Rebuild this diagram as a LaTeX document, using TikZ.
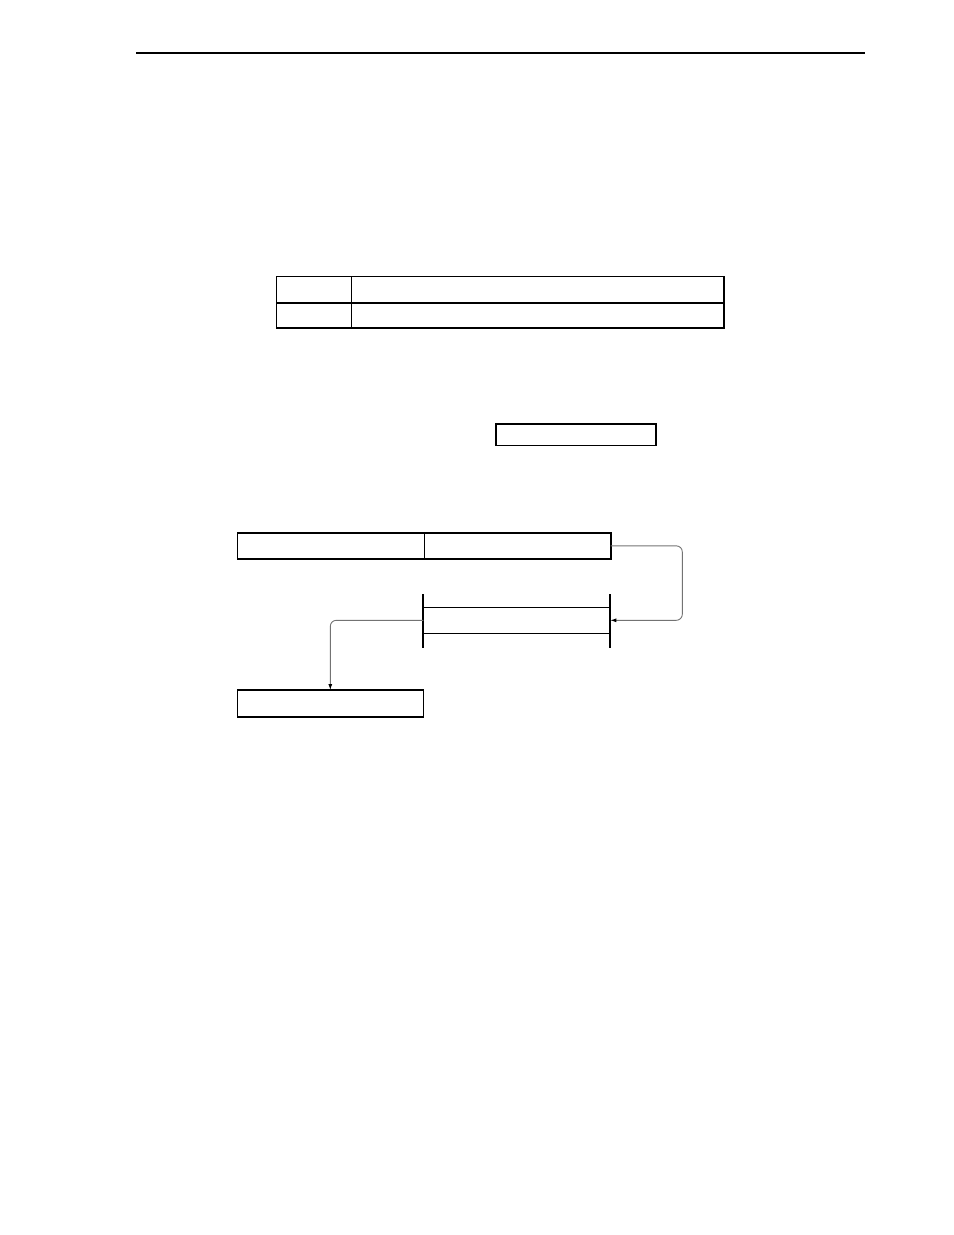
\documentclass[tikz,border=0pt]{standalone}
\usetikzlibrary{arrows.meta,calc}
\tikzset{
  cell/.style={draw=black, line width=1.6bp, rectangle, inner sep=0pt, outer sep=0pt, anchor=north west},
  bufbox/.style={draw=none, rectangle, inner sep=0pt, outer sep=0pt, anchor=north west},
  conn/.style={draw=black!55, line width=0.9bp, rounded corners=6bp, -{Latex[length=6bp,width=4bp,black]}},
  rail/.style={line width=1.8bp},
  bar/.style={line width=1.1bp}
}
\begin{document}
\begin{tikzpicture}[x=1bp,y=-1bp]
\useasboundingbox (0,0) rectangle (954,1235);
% header rule
\draw[line width=1.2bp] (136,53) -- (865,53);
% table
\node[cell, minimum width=74.8bp, minimum height=26.2bp] (t11) at (276.5,276.5) {};
\node[cell, minimum width=372.4bp, minimum height=26.2bp] (t12) at (351.3,276.5) {};
\node[cell, minimum width=74.8bp, minimum height=25bp] (t21) at (276.5,302.7) {};
\node[cell, minimum width=372.4bp, minimum height=25bp] (t22) at (351.3,302.7) {};
% single box
\node[cell, minimum width=160.3bp, minimum height=21.6bp] (reg) at (495.7,423.7) {};
% top two-part box
\node[cell, minimum width=187bp, minimum height=26.3bp] (top1) at (237.3,532.7) {};
\node[cell, minimum width=186.4bp, minimum height=26.3bp] (top2) at (424.3,532.7) {};
% buffer (bracket)
\node[bufbox, minimum width=187bp, minimum height=26bp] (buf) at (423.3,607.3) {};
\draw[bar] (buf.north west) -- (buf.north east);
\draw[bar] (buf.south west) -- (buf.south east);
\draw[rail] ($(buf.north west)+(0,-13.3)$) -- ($(buf.south west)+(0,15)$);
\draw[rail] ($(buf.north east)+(0,-13.3)$) -- ($(buf.south east)+(0,15)$);
% bottom box
\node[cell, minimum width=186bp, minimum height=26.7bp] (bot) at (237.3,690) {};
% connectors
\coordinate (loop) at ($(buf.east)+(72,0)$);
\draw[conn] (top2.east) -| (loop) -- (buf.east);
\draw[conn] (buf.west) -| (bot.north);
\end{tikzpicture}
\end{document}
